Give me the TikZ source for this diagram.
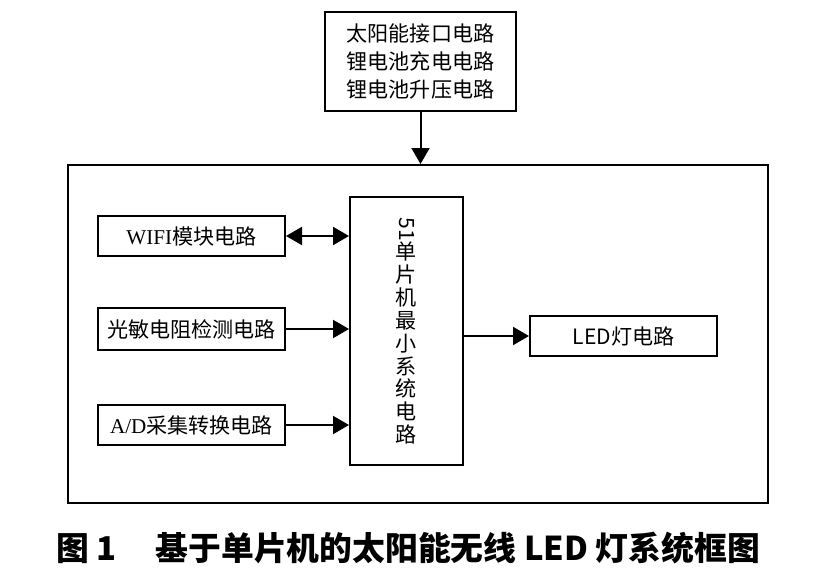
\documentclass[tikz,border=0pt]{standalone}
\usepackage{fontspec}
\setmainfont{Noto Sans CJK SC}
\newfontfamily\latinserif{Liberation Serif}
\usepackage{graphicx}
\usetikzlibrary{arrows.meta}

\begin{document}
\begin{tikzpicture}[x=0.03cm,y=-0.03cm]
% Styles
\def\px{0.03cm}
\tikzstyle{cadre}=[draw,line width=1.7pt]
\tikzstyle{bloc}=[cadre,minimum width=187*\px,minimum height=40*\px,inner sep=0pt,font=\fontsize{18}{23}\selectfont]
\tikzstyle{fleche}=[line width=1.7pt,-{Triangle[length=16*\px,width=18*\px]}]
\tikzstyle{doublefleche}=[line width=1.7pt,{Triangle[length=16*\px,width=18*\px]}-{Triangle[length=16*\px,width=18*\px]}]
% Cadre de la page
\useasboundingbox (0,0) rectangle (816,571);
% Alimentation
\node[cadre,minimum width=191*\px,minimum height=99*\px,inner sep=0pt,align=center,
  font=\fontsize{18}{23.5}\selectfont] (source) at (420.5,61.5)
  {太阳能接口电路\\锂电池充电电路\\锂电池升压电路};
% Carte principale
\node[cadre,minimum width=700*\px,minimum height=338*\px] (carte) at (418,334) {};
% Blocs d'entree
\node[bloc] (wifi) at (191.5,236) {{\latinserif WIFI}模块电路};
\node[bloc,minimum height=42*\px] (photo) at (191.5,329) {光敏电阻检测电路};
\node[bloc] (adc) at (191.5,425) {{\latinserif A/D}采集转换电路};
% Microcontroleur
\node[cadre,minimum width=113*\px,minimum height=268*\px,inner sep=0pt,align=center,
  font=\fontsize{18}{19.5}\selectfont] (mcu) at (406.5,331)
  {\rotatebox{-90}{51}\\单\\片\\机\\最\\小\\系\\统\\电\\路};
% Sortie
\node[bloc] (led) at (623.5,336) {LED灯电路};
% Legende
\node[font=\fontsize{28}{30}\bfseries\selectfont] (legende) at (408,548)
  {图 1\hspace{1.2em}基于单片机的太阳能无线 LED 灯系统框图};
% Fleches
\draw[fleche] (source.south) -- (source.south |- carte.north);
\draw[doublefleche] (wifi) -- (wifi -| mcu.west);
\draw[fleche] (photo) -- (photo -| mcu.west);
\draw[fleche] (adc) -- (adc -| mcu.west);
\draw[fleche] (led -| mcu.east) -- (led);
\end{tikzpicture}
\end{document}
